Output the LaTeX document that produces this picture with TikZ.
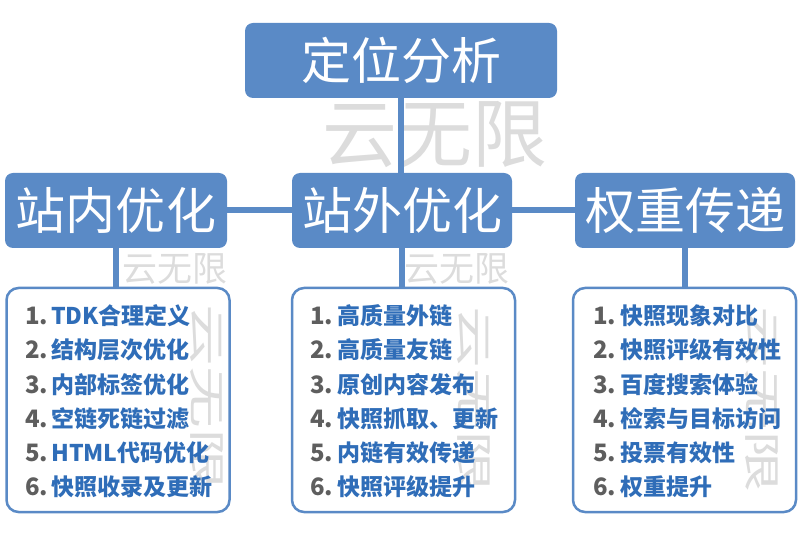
\documentclass[tikz,border=0pt]{standalone}
\usepackage{fontspec}
\setmainfont{Noto Sans CJK SC}
\usetikzlibrary{positioning}
\definecolor{boxblue}{HTML}{5A8AC6}
\definecolor{itemblue}{HTML}{2F6DB8}
\definecolor{numgray}{HTML}{5E5E5E}
\definecolor{markgray}{HTML}{DCDCDC}
\tikzset{
  headbox/.style={fill=boxblue, rounded corners=8pt, text=white, inner sep=0pt,
    minimum height=75pt, font=\fontsize{50}{50}\selectfont},
  listbox/.style={draw=boxblue, line width=2.5pt, fill=white, rounded corners=12pt,
    minimum width=223pt, minimum height=224pt, inner sep=0pt},
  link/.style={draw=boxblue, line width=6pt},
  wmark/.style={text=markgray, inner sep=0pt},
  numtext/.style={anchor=base west, inner sep=0pt, text=numgray,
    font=\bfseries\fontsize{24}{24}\selectfont},
  itemtext/.style={anchor=base west, inner sep=0pt, text=itemblue,
    font=\bfseries\fontsize{23}{23}\selectfont}
}

\begin{document}
\begin{tikzpicture}[x=1pt, y=-1pt]
                \useasboundingbox (0,0) rectangle (800,534);

                % watermark behind the top link
                \node[wmark, font=\fontsize{75}{75}\selectfont] (bigmark) at (435,135) {云无限};
                \node[wmark, font=\fontsize{35}{35}\selectfont] (inmark) at (175,269) {云无限};
                \node[wmark, font=\fontsize{35}{35}\selectfont] (outmark) at (457,269) {云无限};

                % the head boxes
                \node[headbox, minimum width=312pt] (pos) at (401,60.5) {定位分析};
                \node[headbox, minimum width=222pt] (inner) at (116,210.5) {站内优化};
                \node[headbox, minimum width=220pt] (outer) at (402,210.5) {站外优化};
                \node[headbox, minimum width=220pt] (weight) at (685,210.5) {权重传递};

                % the list boxes
                \node[listbox] (inlist) at (118,400) {};
                \node[listbox] (outlist) at (403.5,400) {};
                \node[listbox] (weightlist) at (684.5,400) {};

                % watermarks inside the lists
                \node[wmark, rotate=-90, yscale=0.6, font=\fontsize{62}{62}\selectfont] (inmarkv) at (207,398) {云无限};
                \node[wmark, rotate=-90, yscale=0.6, font=\fontsize{62}{62}\selectfont] (outmarkv) at (474,400) {云无限};
                \node[wmark, rotate=-90, yscale=0.6, font=\fontsize{62}{62}\selectfont] (weightmarkv) at (762,400) {云无限};

                % pos to outer
                \draw[link] (pos.south) -- (outer.north -| pos.south);
                % inner to outer
                \draw[link] (inner.east) -- (outer.west);
                % outer to weight
                \draw[link] (outer.east) -- (weight.west);
                % heads to lists
                \draw[link] (inner.south) -- (inlist.north -| inner.south);
                \draw[link] (outer.south) -- (outlist.north -| outer.south);
                \draw[link] (weight.south) -- (weightlist.north -| weight.south);

                % inner list
                \foreach \i/\txt in {1/TDK合理定义, 2/结构层次优化, 3/内部标签优化,
                    4/空链死链过滤, 5/HTML代码优化, 6/快照收录及更新}{
                    \node[numtext] (in\i) at (25,{291+34*\i}) {\i.};
                    \node[itemtext] (intext\i) at (51,{291+34*\i}) {\txt};
                }
                % outer list
                \foreach \i/\txt in {1/高质量外链, 2/高质量友链, 3/原创内容发布,
                    4/快照抓取、更新, 5/内链有效传递, 6/快照评级提升}{
                    \node[numtext] (out\i) at (310,{291+34*\i}) {\i.};
                    \node[itemtext] (outtext\i) at (337,{291+34*\i}) {\txt};
                }
                % weight list
                \foreach \i/\txt in {1/快照现象对比, 2/快照评级有效性, 3/百度搜索体验,
                    4/检索与目标访问, 5/投票有效性, 6/权重提升}{
                    \node[numtext] (weight\i) at (593,{291+34*\i}) {\i.};
                    \node[itemtext] (weighttext\i) at (620,{291+34*\i}) {\txt};
                }
            \end{tikzpicture}
\end{document}
